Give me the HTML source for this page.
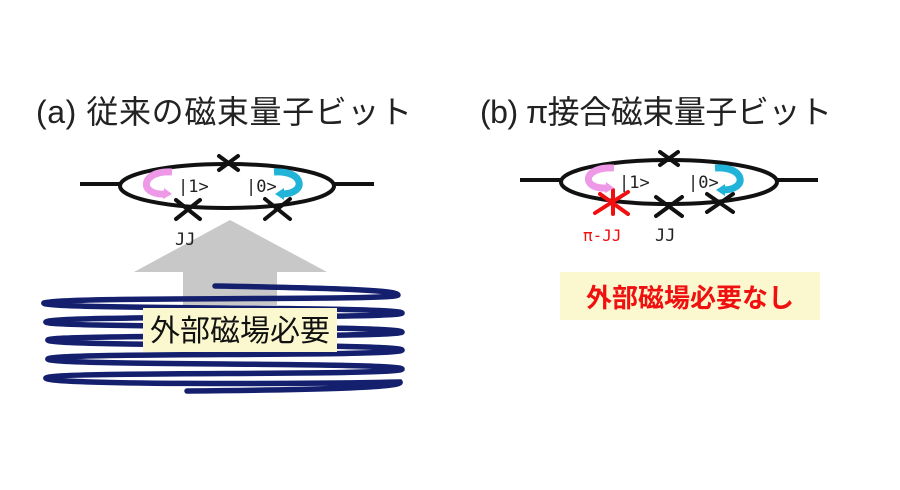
<!DOCTYPE html>
<html><head><meta charset="utf-8"><style>
html,body{margin:0;padding:0;background:#fff;width:900px;height:490px;overflow:hidden}
</style></head><body>
<svg width="900" height="490" viewBox="0 0 900 490" xmlns="http://www.w3.org/2000/svg">
<g font-family="Liberation Sans, Noto Sans CJK JP, sans-serif">
<text x="36" y="123" font-size="32" fill="#222" textLength="376">(a) 従来の磁束量子ビット</text>
<text x="480" y="123" font-size="32" fill="#222" textLength="352">(b) π接合磁束量子ビット</text>

<!-- gray arrow -->
<polygon points="230,220 327,272 277,272 277,305 183,305 183,272 134,272" fill="#c8c8c8"/>

<!-- coil -->
<g fill="none" stroke="#14206e" stroke-width="5.5" stroke-linecap="round">
<path d="M215,286 C330,288 398,290 398,295 C398,301 60,296 44,303"/>
<path d="M44,303 C40,310 400,306 402,313 C404,319 50,315 46,322"/>
<path d="M46,322 C44,328 400,325 402,332 C404,338 50,334 48,340"/>
<path d="M48,340 C46,347 400,343 402,350 C404,357 50,352 48,359"/>
<path d="M48,359 C46,366 400,362 402,369 C404,376 50,371 46,378"/>
<path d="M46,378 C44,385 300,384 400,382 C404,388 300,390 187,391"/>
</g>
<rect x="143" y="308" width="194" height="44" fill="#fbf8cf"/>
<text x="240" y="341" font-size="30" text-anchor="middle" fill="#111">外部磁場必要</text>

<!-- left loop -->
<g stroke="#111" stroke-width="4" fill="none">
<line x1="80" y1="184" x2="121" y2="184"/>
<line x1="334" y1="184" x2="374" y2="184"/>
<ellipse cx="227" cy="186" rx="107" ry="22"/>
</g>
<g stroke="#111" stroke-width="4" stroke-linecap="round">
<line x1="219" y1="156" x2="238" y2="170"/><line x1="238" y1="156" x2="219" y2="170"/>
<line x1="176" y1="200" x2="200" y2="219"/><line x1="200" y1="200" x2="176" y2="219"/>
<line x1="265" y1="199" x2="290" y2="219"/><line x1="290" y1="199" x2="265" y2="219"/>
</g>
<path d="M172,172 C140,170 138,196 166,194" fill="none" stroke="#ee99e8" stroke-width="7"/>
<polygon points="164,188 172,194 163,199" fill="#ee99e8"/>
<path d="M274,172 C305,170 307,194 282,194" fill="none" stroke="#22b4d8" stroke-width="7"/>
<polygon points="284,188 275,194 284,200" fill="#22b4d8"/>
<text x="178" y="192" font-size="17" font-family="DejaVu Sans Mono, monospace" fill="#222">|1&gt;</text>
<text x="246" y="192" font-size="17" font-family="DejaVu Sans Mono, monospace" fill="#222">|0&gt;</text>
<text x="175" y="245" font-size="17" font-family="DejaVu Sans Mono, monospace" fill="#222">JJ</text>

<!-- right loop -->
<g stroke="#111" stroke-width="4" fill="none">
<line x1="520" y1="180" x2="561" y2="180"/>
<line x1="777" y1="180" x2="818" y2="180"/>
<ellipse cx="669" cy="182" rx="108" ry="22"/>
</g>
<g stroke="#111" stroke-width="4" stroke-linecap="round">
<line x1="660" y1="152" x2="678" y2="165"/><line x1="678" y1="152" x2="660" y2="165"/>
<line x1="656" y1="197" x2="682" y2="216"/><line x1="682" y1="197" x2="656" y2="216"/>
<line x1="707" y1="194" x2="733" y2="212"/><line x1="733" y1="194" x2="707" y2="212"/>
</g>
<g stroke="#f01010" stroke-width="4" stroke-linecap="round">
<line x1="600" y1="194" x2="628" y2="214"/><line x1="628" y1="192" x2="595" y2="213"/><line x1="613" y1="190" x2="613" y2="214"/>
</g>
<path d="M614,168 C582,166 580,190 608,188" fill="none" stroke="#ee99e8" stroke-width="7"/>
<polygon points="606,182 614,188 605,193" fill="#ee99e8"/>
<path d="M715,168 C746,166 748,190 723,190" fill="none" stroke="#22b4d8" stroke-width="7"/>
<polygon points="725,184 716,190 725,196" fill="#22b4d8"/>
<text x="619" y="188" font-size="17" font-family="DejaVu Sans Mono, monospace" fill="#222">|1&gt;</text>
<text x="688" y="188" font-size="17" font-family="DejaVu Sans Mono, monospace" fill="#222">|0&gt;</text>
<text x="583" y="241" font-size="16" font-family="DejaVu Sans Mono, monospace" fill="#f01010">π-JJ</text>
<text x="655" y="241" font-size="17" font-family="DejaVu Sans Mono, monospace" fill="#222">JJ</text>

<rect x="560" y="272" width="260" height="48" fill="#fbf8cf"/>
<text x="690" y="307" font-size="26" font-weight="bold" text-anchor="middle" fill="#f01010">外部磁場必要なし</text>
</g>
</svg>
</body></html>
